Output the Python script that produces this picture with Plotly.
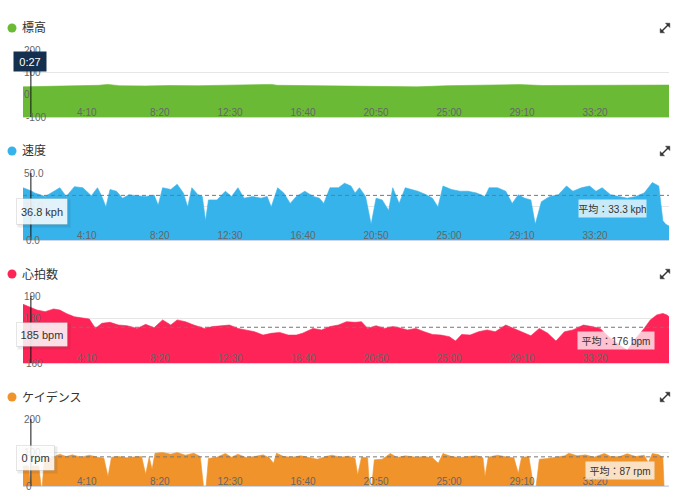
import plotly.graph_objects as go

# ---------------- data ----------------
elev_t = [0, 40, 100, 180, 260, 290, 330, 420, 500, 600, 700, 850, 870, 1000, 1100,
          1200, 1300, 1350, 1450, 1520, 1600, 1700, 1780, 1900, 2000, 2100, 2212]
elev_v = [35, 36, 38, 40, 42, 46, 40, 39, 41, 40, 43, 46, 42, 40, 37,
          34, 33, 35, 40, 42, 43, 45, 41, 42, 44, 43, 43]

speed_t = [0, 27, 40, 76, 126, 148, 176, 205, 234, 255, 270, 284, 298, 320, 341, 363, 391, 420,
           449, 463, 478, 506, 528, 549, 564, 578, 599, 614, 625, 635, 664, 693, 714, 736, 757,
           786, 815, 836, 850, 872, 893, 915, 936, 965, 994, 1015, 1030, 1051, 1080, 1101, 1123,
           1137, 1152, 1173, 1192, 1209, 1230, 1252, 1266, 1288, 1309, 1331, 1352, 1381, 1402,
           1421, 1438, 1467, 1496, 1524, 1553, 1582, 1596, 1625, 1653, 1675, 1696, 1718, 1739,
           1754, 1775, 1804, 1833, 1861, 1883, 1912, 1940, 1962, 1983, 2012, 2041, 2069, 2098,
           2127, 2155, 2177, 2191, 2201, 2212]
speed_v = [39.0, 36.8, 35.1, 32.5, 39.0, 32.5, 39.8, 39.0, 33.0, 39.0, 32.5, 24.7, 37.7, 36.4,
           31.2, 33.8, 33.0, 32.5, 33.5, 26.0, 39.0, 37.7, 41.6, 35.1, 24.7, 39.0, 33.8, 32.5,
           14.3, 29.9, 29.9, 36.4, 32.5, 39.0, 31.2, 32.5, 31.2, 32.5, 24.7, 39.0, 35.1, 27.3,
           32.5, 36.4, 32.5, 31.2, 27.3, 39.0, 39.0, 42.4, 40.3, 35.1, 39.0, 32.5, 11.7, 31.2,
           29.9, 22.1, 39.0, 27.3, 39.0, 37.7, 36.4, 33.8, 31.2, 24.7, 40.3, 37.7, 36.4, 36.4,
           35.1, 32.5, 39.0, 39.0, 36.4, 27.3, 33.8, 31.2, 29.9, 11.7, 28.6, 32.5, 33.8, 40.3,
           36.4, 39.0, 40.3, 36.4, 39.0, 33.8, 32.5, 31.2, 32.5, 35.1, 42.9, 40.3, 14.3, 11.7, 10.4]

hr_t = [0, 27, 48, 76, 105, 126, 148, 176, 205, 227, 248, 270, 298, 327, 356, 391, 420, 449,
        478, 506, 528, 556, 585, 621, 649, 678, 707, 736, 764, 793, 822, 850, 879, 908, 936,
        957, 993, 1022, 1051, 1080, 1108, 1137, 1159, 1180, 1209, 1238, 1266, 1288, 1317,
        1345, 1374, 1402, 1431, 1460, 1481, 1502, 1531, 1560, 1589, 1617, 1653, 1681, 1710,
        1739, 1768, 1797, 1825, 1854, 1883, 1919, 1948, 1976, 2005, 2041, 2069, 2098, 2127,
        2148, 2170, 2191, 2205, 2212]
hr_v = [186.3, 185.0, 183.7, 183.0, 184.2, 183.7, 182.2, 180.7, 180.0, 179.7, 175.5, 177.8,
        178.2, 177.0, 176.7, 175.5, 177.3, 175.8, 179.3, 177.0, 179.3, 178.5, 177.0, 175.5,
        176.3, 176.7, 177.0, 175.5, 174.8, 174.0, 172.5, 173.3, 173.7, 172.5, 172.5, 173.3,
        175.5, 174.8, 176.3, 177.0, 178.5, 178.2, 178.5, 175.5, 176.7, 175.5, 176.3, 175.8,
        174.8, 175.5, 174.0, 172.8, 172.5, 171.8, 169.8, 172.8, 172.5, 174.0, 174.8, 174.0,
        177.0, 175.5, 174.0, 172.2, 175.5, 173.3, 169.8, 174.0, 174.8, 177.0, 176.3, 175.5,
        171.8, 168.1, 165.8, 171.0, 175.5, 179.3, 181.5, 182.2, 181.5, 180.7]

cad_t = [0, 19, 27, 31, 54, 62, 66, 73, 98, 126, 148, 169, 198, 227, 255, 277, 291, 303, 327,
         356, 384, 406, 420, 432, 442, 452, 478, 506, 528, 556, 585, 607, 618, 627, 635, 664,
         693, 714, 736, 764, 793, 822, 843, 858, 868, 893, 922, 951, 979, 1008, 1037, 1058,
         1087, 1116, 1137, 1146, 1159, 1180, 1186, 1194, 1203, 1230, 1258, 1281, 1309, 1345,
         1374, 1402, 1422, 1438, 1467, 1496, 1524, 1553, 1575, 1582, 1593, 1625, 1653, 1681,
         1696, 1707, 1732, 1748, 1757, 1768, 1797, 1821, 1855, 1869, 1898, 1926, 1955, 1991,
         2012, 2041, 2069, 2098, 2127, 2141, 2155, 2177, 2191, 2195, 2212]
cad_v = [60, 60, 0, 60, 60, 0, 0, 82, 84, 95, 88, 93, 86, 92, 86, 83, 28, 86, 88,
         84, 87, 88, 35, 86, 50, 98, 100, 95, 100, 92, 98, 88, 0, 0, 82, 86,
         97, 86, 95, 85, 88, 93, 84, 68, 98, 88, 86, 90, 85, 80, 88, 92,
         86, 89, 82, 33, 86, 84, 0, 0, 78, 80, 97, 85, 90, 86,
         88, 84, 68, 97, 88, 85, 88, 90, 84, 28, 86, 92, 87, 84,
         38, 85, 88, 0, 0, 80, 82, 86, 90, 98, 90, 93, 86, 97,
         88, 87, 96, 88, 92, 70, 97, 93, 85, 0, 0]

tick_vals = [250, 500, 750, 1000, 1250, 1500, 1750, 2000]
tick_text = ["4:10", "8:20", "12:30", "16:40", "20:50", "25:00", "29:10", "33:20"]

titles = ["標高", "速度", "心拍数", "ケイデンス"]
colors = ["#6aba36", "#36b3eb", "#ff2457", "#f0932b"]
yranges = [[-100, 200], [0, 50], [160, 190], [0, 200]]
ytickvals = [[-100, 0, 100, 200], [0, 25, 50], [160, 170, 180, 190], [0, 100, 200]]
yticktext = [["-100", "0", "100", "200"], ["0.0", "25.0", "50.0"],
             ["160", "170", "180", "190"], ["0", "100", "200"]]
averages = [None, 33.3, 176, 87]
avg_text = [None, "平均：33.3 kph", "平均：176 bpm", "平均：87 rpm"]
cursor_t = 27
cursor_text = ["0:27", "36.8 kph", "185 bpm", "0 rpm"]

T_MAX = 2212
W, H = 690, 504
ML, MR = 23, 21
PW = W - ML - MR

def px(x):
    return (x - ML) / PW

def py(y):
    return 1 - y / H

# panel pixel geometry (top, bottom) of plot areas, title y
plot_px = [(50, 117), (173, 240), (296, 363), (419, 486)]
title_y = [28, 151, 274, 397]

FONT = "Liberation Sans, Arial, Noto Sans CJK JP, sans-serif"

fig = go.Figure()

series = [(elev_t, elev_v), (speed_t, speed_v), (hr_t, hr_v), (cad_t, cad_v)]
for i, (t, v) in enumerate(series):
    xa = "x" if i == 0 else f"x{i+1}"
    ya = "y" if i == 0 else f"y{i+1}"
    base = yranges[i][0]
    fig.add_trace(go.Scatter(x=[t[0], t[-1]], y=[base, base], mode="lines",
                             line=dict(width=0, color=colors[i]), xaxis=xa, yaxis=ya,
                             hoverinfo="skip", showlegend=False))
    fig.add_trace(go.Scatter(x=t, y=v, mode="lines", fill="tonexty",
                             fillcolor=colors[i], line=dict(width=0.6, color=colors[i]),
                             xaxis=xa, yaxis=ya, showlegend=False))

layout = dict(width=W, height=H, margin=dict(l=ML, r=MR, t=0, b=0, autoexpand=False),
              paper_bgcolor="white", plot_bgcolor="white",
              font=dict(family=FONT, color="#333"), showlegend=False)
shapes = []
annotations = []
for i in range(4):
    sfx = "" if i == 0 else str(i + 1)
    top, bot = plot_px[i]
    layout["xaxis" + sfx] = dict(domain=[0, 1], range=[0, T_MAX], anchor="y" + sfx,
                                 tickvals=tick_vals, ticktext=tick_text,
                                 ticklabelposition="inside left", ticks="",
                                 ticklabelstandoff=-5, ticklabelshift=1, automargin=False,
                                 tickfont=dict(size=10, color="#666"),
                                 showgrid=False, zeroline=False, showline=True,
                                 linecolor="#ccd6eb", linewidth=1, fixedrange=True)
    layout["yaxis" + sfx] = dict(domain=[py(bot), py(top)], range=yranges[i],
                                 anchor="x" + sfx, tickvals=ytickvals[i],
                                 ticktext=yticktext[i], ticklabelposition="inside",
                                 ticklabeloverflow="allow", ticks="", automargin=False,
                                 ticklabelstandoff=-2,
                                 tickfont=dict(size=10, color="#666"),
                                 showgrid=True, gridcolor="#e6e6e6", gridwidth=1,
                                 zeroline=False, showline=False, fixedrange=True)
    # bottom y label (plotly hides it next to the inside x labels)
    annotations.append(dict(text=yticktext[i][0], xref="paper", yref="paper", x=px(24),
                            y=py(bot), xanchor="left", yanchor="middle", showarrow=False,
                            font=dict(size=10, color="#666")))
    # title dot + text
    shapes.append(dict(type="circle", xref="paper", yref="paper", xsizemode="pixel",
                       ysizemode="pixel", xanchor=px(12), yanchor=py(title_y[i]),
                       x0=-4.5, x1=4.5, y0=-4.5, y1=4.5, fillcolor=colors[i],
                       line=dict(width=0)))
    annotations.append(dict(text=titles[i], xref="paper", yref="paper", x=px(20),
                            y=py(title_y[i]), xanchor="left", yanchor="middle",
                            showarrow=False, font=dict(size=12, color="#333")))
    # expand icon
    shapes.append(dict(type="path", xref="paper", yref="paper", xsizemode="pixel",
                       ysizemode="pixel", xanchor=px(665), yanchor=py(title_y[i]),
                       path="M -3,-3 L 3,3", line=dict(color="#333", width=1.5)))
    shapes.append(dict(type="path", xref="paper", yref="paper", xsizemode="pixel",
                       ysizemode="pixel", xanchor=px(665), yanchor=py(title_y[i]),
                       path="M 0.5,4.8 L 4.8,4.8 L 4.8,0.5 Z M -0.5,-4.8 L -4.8,-4.8 L -4.8,-0.5 Z",
                       fillcolor="#333", line=dict(color="#333", width=0.5)))
    # average dashed line
    if averages[i] is not None:
        shapes.append(dict(type="line", xref="x" + sfx + " domain", yref="y" + sfx,
                           x0=0, x1=1, y0=averages[i], y1=averages[i],
                           line=dict(color="#777", width=1, dash="4px,3px")))
    # cursor line
    shapes.append(dict(type="line", xref="x" + sfx, yref="y" + sfx + " domain",
                       x0=cursor_t, x1=cursor_t, y0=0, y1=1,
                       line=dict(color="#111", width=1)))

# cursor tooltips
annotations.append(dict(text="0:27", xref="paper", yref="paper", x=px(30), y=py(61.5),
                        xanchor="center", yanchor="middle", showarrow=False,
                        bgcolor="#14304e", borderpad=3, width=26, height=13,
                        font=dict(size=11, color="white")))
tips = [(1, 16, 68, 198, 225), (2, 16, 68, 322, 347), (3, 16, 55, 445, 471)]
for i, x0, x1, y0, y1 in tips:
    cx, cy = (x0 + x1) / 2, (y0 + y1) / 2
    annotations.append(dict(text="", xref="paper", yref="paper", x=px(cx + 1.5), y=py(cy + 1.5),
                            xanchor="center", yanchor="middle", showarrow=False,
                            bgcolor="rgba(0,0,0,0.08)", borderpad=0,
                            width=x1 - x0, height=y1 - y0))
    annotations.append(dict(text=cursor_text[i], xref="paper", yref="paper", x=px(cx),
                            y=py(cy), xanchor="center", yanchor="middle", showarrow=False,
                            bgcolor="rgba(255,255,255,0.86)", bordercolor="rgba(0,0,0,0.10)",
                            borderwidth=1, borderpad=0, width=x1 - x0 - 2, height=y1 - y0 - 2,
                            align="center", font=dict(size=11, color="#333")))

# average labels
avg_boxes = [(1, 579, 646, 200, 217), (2, 578, 654, 332, 349), (3, 586, 654, 462, 479)]
for i, x0, x1, y0, y1 in avg_boxes:
    annotations.append(dict(text=avg_text[i], xref="paper", yref="paper",
                            x=px((x0 + x1) / 2), y=py((y0 + y1) / 2), xanchor="center",
                            yanchor="middle", showarrow=False,
                            bgcolor="rgba(255,255,255,0.72)", borderpad=0,
                            width=x1 - x0, height=y1 - y0,
                            font=dict(size=10, color="#333")))

layout["shapes"] = shapes
layout["annotations"] = annotations
fig.update_layout(**layout)
fig.write_html(
    "out.html",
    config={"displayModeBar": False},
    post_script=("document.body.style.margin='0';"
                 "var d=document.getElementById('{plot_id}');"
                 "d.style.position='absolute';d.style.left='0px';d.style.top='0px';"),
)
